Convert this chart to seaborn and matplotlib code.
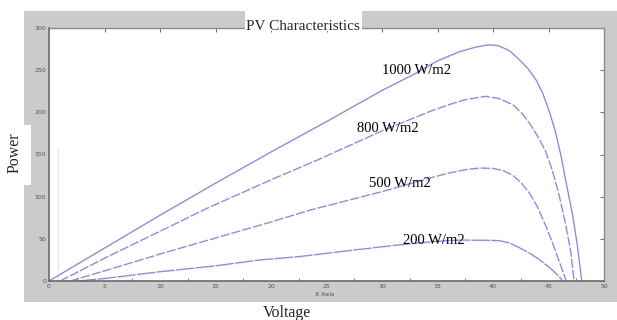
import numpy as np
import pandas as pd
import seaborn as sns
import matplotlib
matplotlib.use("Agg")
import matplotlib.pyplot as plt
from matplotlib.patches import Rectangle
from matplotlib.ticker import MultipleLocator

# values (voltage V, power W)
v_1000 = [0, 5, 10, 15, 20, 25, 30, 33, 35, 37, 38.5, 39.6, 40.5, 41.5, 42.4, 43.2, 43.9,
          44.5, 45.1, 45.6, 46.1, 46.6, 47.2, 47.6, 48.0]
p_1000 = [0, 39, 78, 116, 153, 189, 226, 246, 261, 272, 277.5, 280, 279, 273, 262, 251, 238,
          222, 200, 178, 150, 116, 76, 42, 0]

v_800 = [1.0, 5, 10, 14.2, 20, 24.1, 30, 34.3, 36, 37.5, 39.3, 40.5, 41.8, 42.6, 43.3, 44.0,
         44.7, 45.3, 45.9, 46.5, 47.0, 47.3]
p_800 = [0, 27, 59, 86, 120, 143, 178, 201, 209, 215, 219, 216.5, 209, 199, 187, 172,
         155, 133, 105, 70, 35, 0]

v_500 = [1.9, 5, 10, 15, 20, 23.5, 30, 34.3, 36, 37.5, 38.8, 40.0, 40.9, 41.7, 42.5, 43.3,
         44.0, 44.8, 45.4, 46.0, 46.6]
p_500 = [0, 12, 32, 51, 70, 84, 106, 122, 128, 132, 134, 133.5, 131, 126, 117, 104,
         88, 64, 44, 22, 0]

v_200 = [2.6, 5, 10, 15, 19, 22.6, 27, 31.6, 34, 36, 37.3, 39.5, 40.6, 41.5, 42.3, 43.3,
         44.0, 44.8, 45.4, 45.9, 46.3]
p_200 = [0, 3, 11, 18, 25, 29, 36, 43, 46, 48, 48.5, 48.3, 47.8, 45, 40, 33,
         27, 19, 12.5, 6, 0]

irradiance = ["1000 W/m2", "800 W/m2", "500 W/m2", "200 W/m2"]
label_pos = [(33.1, 250), (30.5, 181), (31.6, 116), (34.7, 48.6)]

x_ticks = list(range(0, 51, 5))
y_ticks = list(range(0, 301, 50))

curves = [(v_1000, p_1000), (v_800, p_800), (v_500, p_500), (v_200, p_200)]
styles = ["-", (0, (7, 1.5)), (0, (7, 1.5)), (0, (14, 1))]

sns.set_style("white")
plt.rcParams['font.family'] = ['DejaVu Sans']

W, H = 617, 320
fig = plt.figure(figsize=(W / 100, H / 100), dpi=100)
fig.patch.set_facecolor("white")

def fx(px):
    return px / W

def fy(py):
    return 1 - py / H

# grey panel behind the axes
fig.patches.append(Rectangle((fx(24), fy(302)), 1 - fx(24), fy(11) - fy(302),
                             transform=fig.transFigure, facecolor="#cbcbcb",
                             edgecolor="none", zorder=-2))

ax = fig.add_axes([fx(49), fy(281), fx(604) - fx(49), fy(28) - fy(281)])
ax.set_facecolor("white")

# faint leftover guide line near the y axis
ax.axvline(0.85, ymin=0, ymax=0.52, color="#e8e8e8", linewidth=0.8, zorder=0)

blue = "#8585ff"
for (v, p), ls, name in zip(curves, styles, irradiance):
    df = pd.DataFrame({"Voltage": v, "Power": p})
    sns.lineplot(data=df, x="Voltage", y="Power", ax=ax, color=blue,
                 linewidth=0.95, linestyle=ls, estimator=None)

for name, (x, y) in zip(irradiance, label_pos):
    ax.text(x, y, name, ha="center", va="center", fontsize=10.5,
            family="Liberation Serif", color="black")

ax.set_xlim(0, 50)
ax.set_ylim(0, 300)
ax.set_xticks(x_ticks)
ax.set_yticks(y_ticks)
ax.xaxis.set_minor_locator(MultipleLocator(2.5))
ax.set_xlabel("")
ax.set_ylabel("")
ax.tick_params(direction="in", length=3, width=0.6, colors="#555555",
               labelsize=4.5, top=True, right=True, pad=2)
ax.tick_params(axis="x", which="minor", direction="in", length=2.5, width=0.6,
               colors="#666666", top=False, bottom=True)
for s in ["left", "bottom"]:
    ax.spines[s].set_color("#6a6a6a")
    ax.spines[s].set_linewidth(1.2)
for s in ["top", "right"]:
    ax.spines[s].set_color("#8a8a8a")
    ax.spines[s].set_linewidth(1.0)

fig.text(fx(325), fy(294), "X Axis", fontsize=4.5, color="#444444",
         ha="center", va="center")

# white boxes for title and y label
fig.patches.append(Rectangle((fx(245), fy(31)), fx(362) - fx(245), fy(11) - fy(31),
                             transform=fig.transFigure, facecolor="white",
                             edgecolor="none", zorder=2))
fig.patches.append(Rectangle((0, fy(185)), fx(31), fy(125) - fy(185),
                             transform=fig.transFigure, facecolor="white",
                             edgecolor="none", zorder=2))

fig.text(fx(303), fy(27), "PV Characteristics", fontsize=11,
         family="Liberation Serif", ha="center", va="center", zorder=3)
fig.text(fx(15), fy(153), "Power", fontsize=11.5, rotation=90,
         family="Liberation Serif", ha="center", va="center", zorder=3)
fig.text(fx(287), fy(313), "Voltage", fontsize=11.5,
         family="Liberation Serif", ha="center", va="center", zorder=3)

fig.savefig("out.png", dpi=100)
